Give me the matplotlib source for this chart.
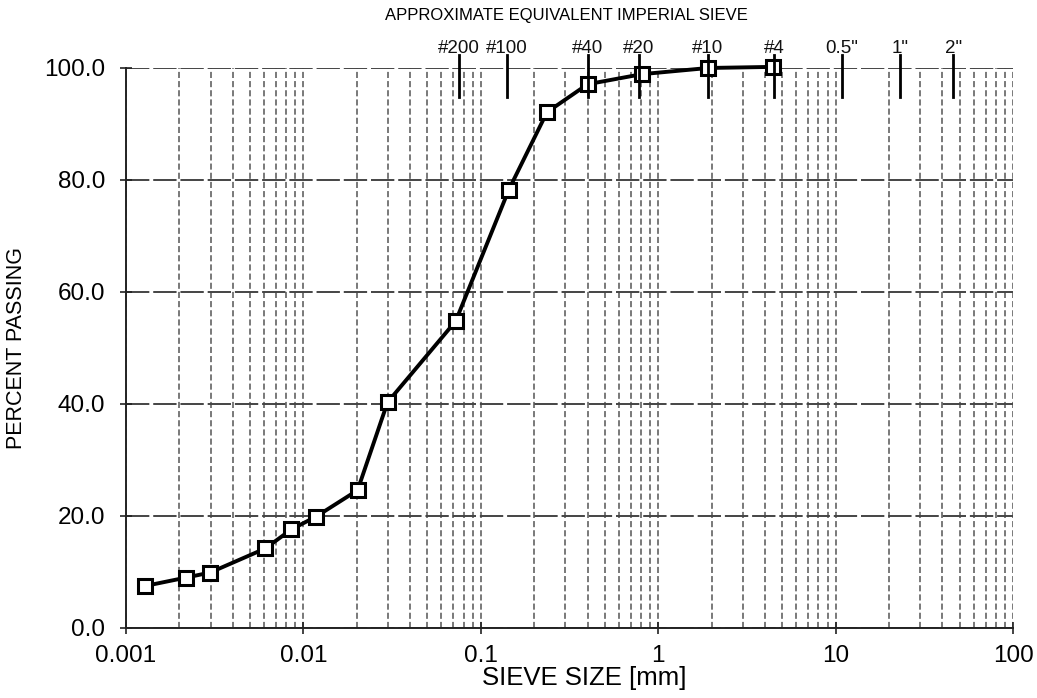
import matplotlib
matplotlib.use("Agg")
import matplotlib.pyplot as plt
from matplotlib.ticker import LogLocator, NullFormatter, FixedLocator

plt.rcParams["font.family"] = ["Liberation Sans", "DejaVu Sans"]

# grain size distribution
sieve_mm = [0.00128, 0.00218, 0.00298, 0.0061, 0.00855, 0.0118, 0.0202,
            0.0298, 0.0722, 0.144, 0.236, 0.40, 0.81, 1.91, 4.46]
passing = [7.5, 9.0, 9.9, 14.2, 17.6, 19.9, 24.6,
           40.3, 54.8, 78.3, 92.1, 97.1, 98.9, 100.0, 100.2]

# imperial sieve markers along the top
imperial_labels = ["#200", "#100", "#40", "#20", "#10", "#4", '0.5"', '1"', '2"']
imperial_mm = [0.075, 0.14, 0.40, 0.78, 1.9, 4.5, 10.8, 23.0, 46.0]

y_ticks = [0, 20, 40, 60, 80, 100]
x_ticks = [0.001, 0.01, 0.1, 1, 10, 100]
x_ticklabels = ["0.001", "0.01", "0.1", "1", "10", "100"]

fig = plt.figure(figsize=(10.37, 6.98), dpi=100)
ax = fig.add_axes([0.1215, 0.1003, 0.8554, 0.8023])

ax.set_xscale("log")
ax.set_xlim(0.001, 100)
ax.set_ylim(0, 100)

ax.xaxis.set_major_locator(FixedLocator(x_ticks))
ax.set_xticklabels(x_ticklabels)
ax.xaxis.set_minor_locator(LogLocator(base=10, subs=range(2, 10), numticks=20))
ax.xaxis.set_minor_formatter(NullFormatter())
ax.set_yticks(y_ticks)
ax.set_yticklabels([f"{v:.1f}" for v in y_ticks])

ax.grid(True, axis="x", which="both", color="#555555", linewidth=1.1,
        linestyle=(0, (4, 2)))
ax.grid(True, axis="y", which="major", color="#444444", linewidth=1.4,
        linestyle=(0, (12, 2)))

for side in ("top", "right"):
    ax.spines[side].set_visible(False)
for side in ("left", "bottom"):
    ax.spines[side].set_linewidth(1.4)
    ax.spines[side].set_color("#222222")

ax.tick_params(axis="both", which="major", labelsize=17.5, direction="inout",
               length=8, width=1.2, colors="#222222", labelcolor="black")
ax.tick_params(axis="x", which="minor", length=0)
ax.tick_params(axis="x", pad=8.5)
ax.tick_params(axis="y", pad=11)

ax.plot(sieve_mm, passing, color="black", linewidth=2.8, marker="s",
        markersize=10, markerfacecolor="white", markeredgecolor="black",
        markeredgewidth=2.2, zorder=5, clip_on=False)

ax.set_ylabel("PERCENT PASSING", fontsize=15.5, labelpad=12)
fig.text(0.563, 0.012, "SIEVE SIZE [mm]", fontsize=18.5, ha="center", va="bottom")

# top imperial sieve ticks and labels
for lab, pos in zip(imperial_labels, imperial_mm):
    ax.plot([pos, pos], [94.8, 102.3], color="black", linewidth=2.0,
            clip_on=False, zorder=6)
    ax.text(pos, 102.7, lab, fontsize=13.5, ha="center", va="baseline",
            color="#111111")

fig.text(0.546, 0.988, "APPROXIMATE EQUIVALENT IMPERIAL SIEVE",
         fontsize=12, ha="center", va="top",
         family=["Liberation Sans Narrow", "Liberation Sans", "DejaVu Sans"])

fig.savefig("out.png", dpi=100)
